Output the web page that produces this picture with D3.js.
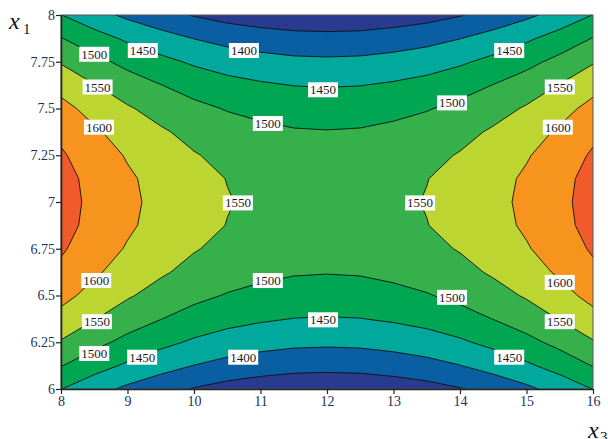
<!DOCTYPE html>
<html lang="en">
<head>
<meta charset="utf-8">
<title>Contour plot x1 / x3</title>
<script src="https://cdnjs.cloudflare.com/ajax/libs/d3/7.8.5/d3.min.js"></script>
<style>
  body { margin:0; background:#fff; }
  text { font-family: "Liberation Serif", "Times New Roman", serif; }
</style>
</head>
<body>
<svg id="chart" width="608" height="439"></svg>
<script>
// response values, x3 across (8..16), x1 up (6..8)
var x3Values = [8, 8.5, 9, 9.5, 10, 10.5, 11, 11.5, 12, 12.5, 13, 13.5, 14, 14.5, 15, 15.5, 16];
var x1Values = [6, 6.125, 6.25, 6.375, 6.5, 6.625, 6.75, 6.875, 7, 7.125, 7.25, 7.375, 7.5, 7.625, 7.75, 7.875, 8];
var zRows = [
  [1451, 1418, 1390, 1367, 1347, 1332, 1322, 1315, 1313, 1315, 1322, 1332, 1347, 1367, 1390, 1418, 1451],
  [1502, 1470, 1442, 1419, 1399, 1384, 1374, 1367, 1365, 1367, 1374, 1384, 1399, 1419, 1442, 1470, 1502],
  [1546, 1514, 1486, 1463, 1443, 1428, 1418, 1411, 1409, 1411, 1418, 1428, 1443, 1463, 1486, 1514, 1546],
  [1584, 1552, 1524, 1501, 1481, 1466, 1456, 1449, 1447, 1449, 1456, 1466, 1481, 1501, 1524, 1552, 1584],
  [1615, 1583, 1555, 1532, 1512, 1497, 1487, 1480, 1478, 1480, 1487, 1497, 1512, 1532, 1555, 1583, 1615],
  [1639, 1607, 1579, 1556, 1536, 1521, 1511, 1504, 1502, 1504, 1511, 1521, 1536, 1556, 1579, 1607, 1639],
  [1656, 1624, 1596, 1573, 1553, 1538, 1528, 1521, 1519, 1521, 1528, 1538, 1553, 1573, 1596, 1624, 1656],
  [1667, 1635, 1607, 1584, 1564, 1549, 1539, 1532, 1530, 1532, 1539, 1549, 1564, 1584, 1607, 1635, 1667],
  [1670, 1638, 1610, 1587, 1567, 1552, 1542, 1535, 1533, 1535, 1542, 1552, 1567, 1587, 1610, 1638, 1670],
  [1667, 1635, 1607, 1584, 1564, 1549, 1539, 1532, 1530, 1532, 1539, 1549, 1564, 1584, 1607, 1635, 1667],
  [1656, 1624, 1596, 1573, 1553, 1538, 1528, 1521, 1519, 1521, 1528, 1538, 1553, 1573, 1596, 1624, 1656],
  [1639, 1607, 1579, 1556, 1536, 1521, 1511, 1504, 1502, 1504, 1511, 1521, 1536, 1556, 1579, 1607, 1639],
  [1615, 1583, 1555, 1532, 1512, 1497, 1487, 1480, 1478, 1480, 1487, 1497, 1512, 1532, 1555, 1583, 1615],
  [1584, 1552, 1524, 1501, 1481, 1466, 1456, 1449, 1447, 1449, 1456, 1466, 1481, 1501, 1524, 1552, 1584],
  [1546, 1514, 1486, 1463, 1443, 1428, 1418, 1411, 1409, 1411, 1418, 1428, 1443, 1463, 1486, 1514, 1546],
  [1502, 1470, 1442, 1419, 1399, 1384, 1374, 1367, 1365, 1367, 1374, 1384, 1399, 1419, 1442, 1470, 1502],
  [1451, 1418, 1390, 1367, 1347, 1332, 1322, 1315, 1313, 1315, 1322, 1332, 1347, 1367, 1390, 1418, 1451]
];
var levels = [1350, 1400, 1450, 1500, 1550, 1600, 1650];
var bandColors = ["#283b8e", "#0a5ea2", "#00a99c", "#00a651", "#35b04a", "#bdd531", "#f7941e", "#f15a2a"];
var x3Ticks = [8, 9, 10, 11, 12, 13, 14, 15, 16];
var x1Ticks = [6, 6.25, 6.5, 6.75, 7, 7.25, 7.5, 7.75, 8];
// contour labels: level, x3, x1
var labelAt = [
  [1500, 8.5, 7.79], [1450, 9.23, 7.81], [1400, 10.75, 7.81], [1450, 11.94, 7.6], [1500, 11.11, 7.42],
  [1450, 14.74, 7.81], [1500, 13.88, 7.53], [1550, 8.55, 7.615], [1550, 15.5, 7.615],
  [1600, 8.57, 7.4], [1600, 15.47, 7.4], [1550, 10.66, 6.995], [1550, 13.4, 6.995],
  [1600, 8.53, 6.58], [1600, 15.5, 6.57], [1550, 8.54, 6.36], [1550, 15.5, 6.36],
  [1500, 8.5, 6.19], [1450, 9.22, 6.17], [1400, 10.74, 6.17], [1450, 11.94, 6.37],
  [1500, 11.11, 6.58], [1500, 13.88, 6.49], [1450, 14.74, 6.17]
];

var svg = d3.select("#chart");
var pLeft = 61, pRight = 593, pTop = 15, pBottom = 389;

var x = d3.scaleLinear().domain([8, 16]).range([pLeft, pRight]);
var y = d3.scaleLinear().domain([6, 8]).range([pBottom, pTop]);

var nx = x3Values.length, ny = x1Values.length;
var dx3 = x3Values[1] - x3Values[0], dx1 = x1Values[1] - x1Values[0];
var flat = [].concat.apply([], zRows);

// d3.contours puts value i at grid coordinate i+0.5
var toPx = d3.geoTransform({
  point: function(gx, gy) {
    this.stream.point(x(x3Values[0] + (gx - 0.5) * dx3), y(x1Values[0] + (gy - 0.5) * dx1));
  }
});
var path = d3.geoPath(toPx);

var contours = d3.contours().size([nx, ny]).thresholds(levels)(flat);

svg.append("clipPath").attr("id", "plotclip")
  .append("rect").attr("x", pLeft).attr("y", pTop).attr("width", pRight - pLeft).attr("height", pBottom - pTop);

var plot = svg.append("g").attr("clip-path", "url(#plotclip)");
plot.append("rect")
  .attr("x", pLeft).attr("y", pTop).attr("width", pRight - pLeft).attr("height", pBottom - pTop)
  .attr("fill", bandColors[0]);

plot.selectAll("path.band")
  .data(contours)
  .enter().append("path")
  .attr("class", "band")
  .attr("d", path)
  .attr("fill", function(d, i) { return bandColors[i + 1]; })
  .attr("stroke", "#111")
  .attr("stroke-width", 0.9)
  .attr("stroke-linejoin", "round");

// labels on the lines
var lab = svg.append("g").selectAll("g")
  .data(labelAt)
  .enter().append("g")
  .attr("transform", function(d) { return "translate(" + x(d[1]) + "," + y(d[2]) + ")"; });
lab.append("rect")
  .attr("x", -15).attr("y", -7.5).attr("width", 30).attr("height", 15)
  .attr("fill", "#fff");
lab.append("text")
  .attr("text-anchor", "middle").attr("dy", "0.35em")
  .attr("font-size", 13).attr("fill", "#1a1a1a")
  .text(function(d) { return d[0]; });

// frame
svg.append("rect")
  .attr("x", pLeft).attr("y", pTop).attr("width", pRight - pLeft).attr("height", pBottom - pTop)
  .attr("fill", "none").attr("stroke", "#555").attr("stroke-width", 1);

var tickColor = "#1c3160";
var xAxis = svg.append("g").attr("transform", "translate(0," + pBottom + ")")
  .call(d3.axisBottom(x).tickValues(x3Ticks).tickSize(5).tickSizeOuter(0).tickPadding(2).tickFormat(String));
var yAxis = svg.append("g").attr("transform", "translate(" + pLeft + ",0)")
  .call(d3.axisLeft(y).tickValues(x1Ticks).tickSize(5).tickSizeOuter(0).tickPadding(1).tickFormat(String));

[xAxis, yAxis].forEach(function(ax) {
  ax.attr("font-size", 14).attr("font-family", "'Liberation Serif', 'Times New Roman', serif");
  ax.select(".domain").attr("stroke", "#222").attr("stroke-width", 1.6);
  ax.selectAll(".tick line").attr("stroke", "#222").attr("stroke-width", 1.2);
  ax.selectAll(".tick text").attr("fill", tickColor);
});

// axis names
svg.append("text").attr("x", 9).attr("y", 29)
  .attr("font-size", 24).attr("font-style", "italic").attr("fill", "#111").text("x");
svg.append("text").attr("x", 23).attr("y", 34)
  .attr("font-size", 15).attr("fill", "#111").text("1");
svg.append("text").attr("x", 588).attr("y", 438)
  .attr("font-size", 24).attr("font-style", "italic").attr("fill", "#111").text("x");
svg.append("text").attr("x", 600).attr("y", 442)
  .attr("font-size", 15).attr("fill", "#111").text("3");
</script>
</body>
</html>
